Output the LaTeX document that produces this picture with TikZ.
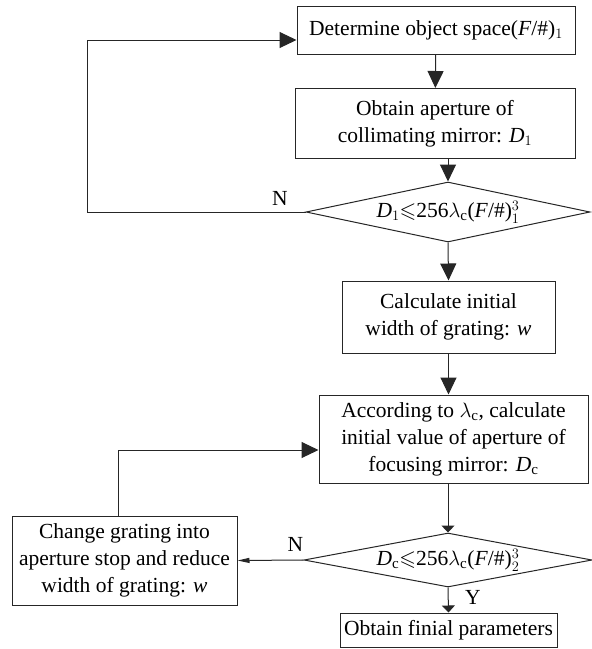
\documentclass[tikz,border=0pt]{standalone}
\usepackage{amssymb}
\usepackage{fontspec}
\setmainfont{Liberation Serif}
\usetikzlibrary{arrows.meta}
\usetikzlibrary{shapes.geometric}
\usetikzlibrary{calc}

\begin{document}
\begin{tikzpicture}[x=1pt,y=-1pt,
 box/.style={draw=black!85, line width=1pt, align=center, inner sep=2pt, font=\fontsize{21.5}{27}\selectfont},
 cond/.style={draw=black!85, line width=1pt, diamond, aspect=4.7, inner sep=0pt, font=\fontsize{21.5}{27}\selectfont},
 bigarr/.style={draw=black!85, line width=1pt, -{Triangle[length=17pt,width=16pt]}},
 smallarr/.style={draw=black!85, line width=1pt, -{Triangle[length=7pt,width=13pt]}},
 thinarr/.style={draw=black!85, line width=1pt, -{Triangle[length=12pt,width=5pt]}},
 lbl/.style={font=\fontsize{21.5}{24}\selectfont, inner sep=0pt}]
\useasboundingbox (0,0) rectangle (592,649);
\fill[white] (0,0) rectangle (592,649);

% boxes of the main column
\node[box, minimum width=278pt, minimum height=48pt] (det) at (436,30)
 {Determine object space(\textit{F}/\#)$_1$};
\node[box, minimum width=280pt, minimum height=70pt] (obt) at (435,123.5)
 {Obtain aperture of\\collimating mirror: \textit{D}$_1$};
\node[cond, minimum width=284pt, minimum height=60pt] (dia1) at (448,212)
 {\textit{D}$_1{\leqslant}$256$\lambda_{\mathrm{c}}$(\textit{F}/\#)$_1^3$};
\node[box, minimum width=213pt, minimum height=72pt] (calc) at (448.5,317)
 {Calculate initial\\width of grating: \textit{w}};
\node[box, minimum width=269pt, minimum height=88pt] (acc) at (453.5,439)
 {According to $\lambda_{\mathrm{c}}$, calculate\\initial value of aperture of\\focusing mirror: \textit{D}$_{\mathrm{c}}$};
\node[cond, minimum width=288pt, minimum height=54pt] (dia2) at (448,560)
 {\textit{D}$_{\mathrm{c}}{\leqslant}$256$\lambda_{\mathrm{c}}$(\textit{F}/\#)$_2^3$};
\node[box, minimum width=217pt, minimum height=34pt] (fin) at (448.5,630)
 {Obtain finial parameters};
\node[box, minimum width=225pt, minimum height=89pt] (chg) at (124.5,560.5)
 {Change grating into\\aperture stop and reduce\\width of grating: \textit{w}};

% straight connectors
\draw[bigarr] (det) -- (obt);
\draw[bigarr] (obt.south -| dia1.north) -- (dia1.north);
\draw[bigarr] (dia1.south) -- (calc.north);
\draw[bigarr] (calc.south) -- (calc.south |- acc.north);
\draw[smallarr] (acc.south -| dia2.north) -- (dia2.north);
\draw[smallarr] (dia2.south) -- (fin.north);
\draw[thinarr] (dia2.west) -- (chg.east);

% feedback loops
\coordinate (loopA) at (87,212);
\draw[bigarr] (dia1.west) -- (loopA) |- ([yshift=-10pt]det.west);
\draw[bigarr] ([xshift=-6.5pt]chg.north) |- ([yshift=-11pt]acc.west);

% branch labels
\node[lbl] (n1) at (280,198) {N};
\node[lbl] (n2) at ([xshift=-8pt,yshift=16pt]dia2.west) {N};
\node[lbl] (y2) at ([xshift=25pt,yshift=-10pt]dia2.south) {Y};
\end{tikzpicture}
\end{document}
